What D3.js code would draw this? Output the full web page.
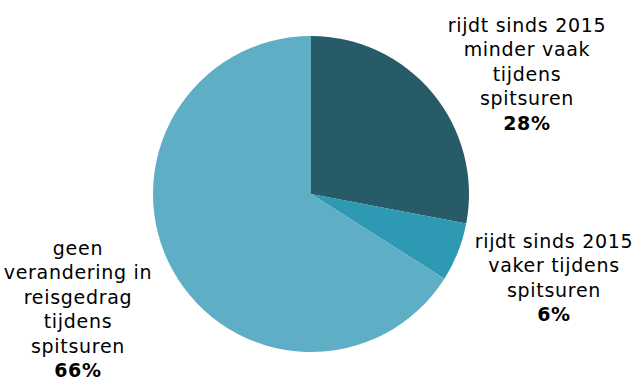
<!DOCTYPE html>
<html>
<head>
<meta charset="utf-8">
<script src="https://cdn.jsdelivr.net/npm/d3@7"></script>
<style>
  html, body { margin: 0; padding: 0; background: #fff; }
  svg { display: block; }
  text { font-family: Verdana, "DejaVu Sans", sans-serif; fill: #000; }
</style>
</head>
<body>
<svg id="chart" width="635" height="378"></svg>
<script>
// Share of commuters by change in peak-hour travel since 2015
const categories = [
  ["rijdt sinds 2015", "minder vaak", "tijdens", "spitsuren"],
  ["rijdt sinds 2015", "vaker tijdens", "spitsuren"],
  ["geen", "verandering in", "reisgedrag", "tijdens", "spitsuren"]
];
const values = [28, 6, 66];
const colors = ["#275B68", "#2E99B2", "#5EAFC5"];

// Label anchors (centre x, first baseline y) per slice
const labelPos = [[527, 32], [554, 248], [78, 255]];

const svg = d3.select("#chart");
const cx = 311, cy = 194, r = 158;
const lineH = 24.4;

const pie = d3.pie().sort(null).value(d => d)(values);
const arc = d3.arc().innerRadius(0).outerRadius(r);

const g = svg.append("g").attr("transform", `translate(${cx},${cy})`);
g.selectAll("path")
  .data(pie)
  .join("path")
  .attr("d", arc)
  .attr("fill", (d, i) => colors[i]);

pie.forEach((d, i) => {
  const [x, y] = labelPos[i];
  const t = svg.append("text")
    .attr("text-anchor", "middle")
    .attr("font-size", 19)
    .attr("letter-spacing", 0.7);
  categories[i].forEach((line, k) => {
    t.append("tspan").attr("x", x).attr("y", y + k * lineH).text(line);
  });
  t.append("tspan")
    .attr("x", x)
    .attr("y", y + categories[i].length * lineH)
    .attr("font-weight", "bold")
    .text(values[i] + "%");
});
</script>
</body>
</html>
